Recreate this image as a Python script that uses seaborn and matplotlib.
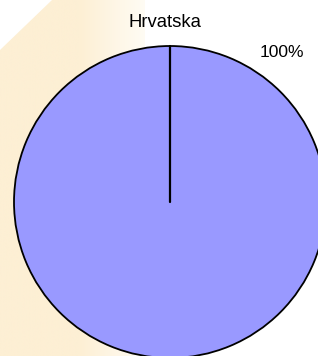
import numpy as np
import matplotlib
matplotlib.use("Agg")
import matplotlib.pyplot as plt
import seaborn as sns
from matplotlib.patches import Polygon

# podaci
naslov = "Hrvatska"
kategorije = ["Hrvatska"]
udjeli = [100]
boje = ["#9999FF"]

sns.set_theme(style="white")
plt.rcParams['font.family'] = ['Liberation Sans', 'DejaVu Sans']

W, H = 318, 356
fig = plt.figure(figsize=(W / 100, H / 100), dpi=100)
ax = fig.add_axes([0, 0, 1, 1])

# pozadina - bež traka s prijelazom
poly = Polygon([(52, H), (145, H), (145, 0), (0, 0), (0, H - 50)], closed=True,
               facecolor="none", edgecolor="none")
ax.add_patch(poly)
xs = np.linspace(0, 145, 300)
t = np.clip((xs - 80) / 65, 0, 1)
beige = np.array([253, 239, 212]) / 255
white = np.array([255, 252, 244]) / 255
grad = beige[None, :] * (1 - t[:, None]) + white[None, :] * t[:, None]
img = np.repeat(grad[None, :, :], 2, axis=0)
im = ax.imshow(img, extent=(0, 145, 0, H), origin="lower", aspect="auto", zorder=0)
im.set_clip_path(poly)

# pita
cx, cy, r = 170, H - 202, 156
ax.pie(udjeli, colors=boje, radius=r, center=(cx, cy), startangle=90,
       counterclock=False,
       wedgeprops=dict(edgecolor="black", linewidth=1.3))
# granica odsječka
kut = np.deg2rad(90)
ax.plot([cx, cx + r * np.cos(kut)], [cy, cy + r * np.sin(kut)], color="black", lw=1.6, zorder=5)

ax.text(165, H - 27, naslov, ha="center", va="baseline", fontsize=13.3, color="black")
ax.text(260, H - 57, f"{udjeli[0]}%", ha="left", va="baseline", fontsize=12.6, color="black")

ax.set_xlim(0, W)
ax.set_ylim(0, H)
ax.set_aspect("auto")
ax.axis("off")

fig.savefig("out.png", dpi=100, facecolor="white")
